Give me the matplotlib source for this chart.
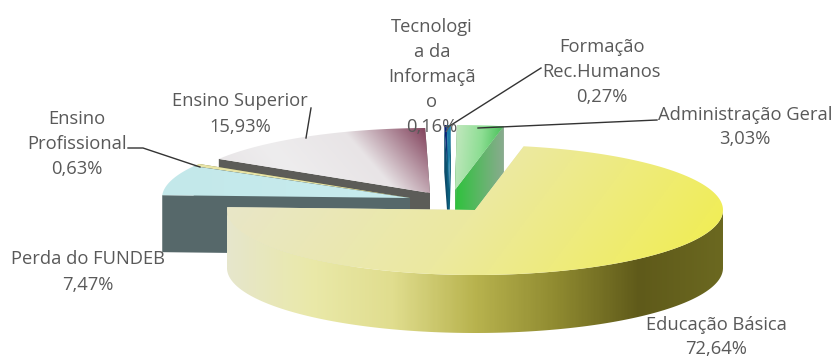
import numpy as np
import matplotlib
matplotlib.use("Agg")
from matplotlib import pyplot as plt
from matplotlib.colors import LinearSegmentedColormap
from matplotlib.patches import Polygon

# values in pie order, counter clockwise from the left side
names = ["Educação Básica", "Administração Geral", "Formação\nRec.Humanos",
         "Tecnologi\na da\nInformaçã\no", "Ensino Superior", "Ensino\nProfissional",
         "Perda do FUNDEB"]
values = [72.64, 3.03, 0.27, 0.16, 15.93, 0.63, 7.47]
pct_labels = ["72,64%", "3,03%", "0,27%", "0,16%", "15,93%", "0,63%", "7,47%"]

start = 177.5
rx, ry = 248, 65
apex = [(475, 210), (455, 190), (449, 190), (449, 190), (430, 193), (410, 198), (410, 198)]
depth = [58, 47, 47, 47, 47, 47, 57]
side_col = [["#e6e6cc", "#eae9a9", "#e0dd8e", "#b8b34e", "#8f8a30", "#5f5a1a", "#6b6820"],
            ["#2ec23c", "#8aab8f"], ["#0b5f7d", "#0b5f7d"], ["#0d4c6b", "#0d4c6b"],
            ["#5c5c58", "#5c5c58"], ["#77743a", "#77743a"], ["#56686a", "#56686a"]]
top_col = [["#e8e6cf", "#ece9a0", "#f1ee4c"], ["#c4e8c0", "#8ede94", "#35b849"],
           ["#1d7fa8", "#1d7fa8"], ["#0a1f78", "#0a1f78"],
           ["#e6e2e4", "#eeedee", "#e8e4e6", "#7d3a55"], ["#e8e4a6", "#e8e4a6"],
           ["#c3e8ea", "#c8ecee"]]
top_dir = [(0.8, 0.6), (1, 0.1), (1, 0), (1, 0), (0.75, -0.65), (1, 0), (1, 0)]
order = [4, 5, 6, 3, 2, 1, 0]

label_pos = [(716, 337), (745, 127), (602, 72), (432, 77), (240, 114), (77, 144), (88, 272)]
leaders = [None, [(657, 120), (478, 128)], [(541, 68), (448, 127)], None,
           [(311, 108), (306, 138)], [(128, 148), (143, 148), (200, 167)], None]

fig = plt.figure(figsize=(8.33, 3.6), dpi=100)
ax = fig.add_axes([0, 0, 1, 1])


def grad_fill(pts, cols, direction, z):
    pts = np.array(pts)
    x0, y0 = pts.min(axis=0)
    x1, y1 = pts.max(axis=0)
    xx, yy = np.meshgrid(np.linspace(x0, x1, 300), np.linspace(y0, y1, 200))
    t = (xx - x0) * direction[0] + (yy - y0) * direction[1]
    t = (t - t.min()) / (t.max() - t.min())
    cmap = LinearSegmentedColormap.from_list("g", cols)
    im = ax.imshow(t, cmap=cmap, extent=(x0, x1, y1, y0), aspect="auto", zorder=z,
                   interpolation="bilinear")
    patch = Polygon(pts, closed=True, transform=ax.transData, fc="none", ec="none")
    ax.add_patch(patch)
    im.set_clip_path(patch)


def arc(i, a0, a1, dy=0):
    t = np.radians(np.linspace(a0, a1, 200))
    return np.column_stack([apex[i][0] + rx * np.cos(t), apex[i][1] + dy - ry * np.sin(t)])


total = sum(values)
a = start
angles = []
for v in values:
    angles.append((a, a + 360 * v / total))
    a += 360 * v / total

for n, i in enumerate(order):
    a0, a1 = angles[i]
    z = 2 + n * 3
    top = arc(i, a0, a1)
    d = depth[i]
    cx, cy = apex[i]
    # radial walls
    for edge in (top[0], top[-1]):
        wall = [(cx, cy), tuple(edge), (edge[0], edge[1] + d), (cx, cy + d)]
        ax.add_patch(Polygon(wall, closed=True, fc=side_col[i][-1] if i else "#e6e6cc",
                             ec="none", zorder=z))
        if i == 1:
            grad_fill(wall, side_col[i], (1, 0), z + 0.5)
    # outer wall, only the part that faces the viewer
    lo, hi = max(a0, 180), min(a1, 360)
    if hi > lo:
        up = arc(i, lo, hi)
        down = arc(i, lo, hi, d)
        grad_fill(np.vstack([up, down[::-1]]), side_col[i], (1, 0), z + 1)
    grad_fill(np.vstack([[(cx, cy)], top]), top_col[i], top_dir[i], z + 2)

for i in range(len(names)):
    ax.text(label_pos[i][0], label_pos[i][1], names[i] + "\n" + pct_labels[i],
            ha="center", va="center", fontsize=13.2, family="Open Sans", color="#595959",
            linespacing=1.5, zorder=40)
    if leaders[i]:
        xs, ys = zip(*leaders[i])
        ax.plot(xs, ys, color="#333333", lw=1, zorder=30)

ax.set_xlim(0, 833)
ax.set_ylim(360, 0)
ax.axis("off")
fig.savefig("out.png", dpi=100)
